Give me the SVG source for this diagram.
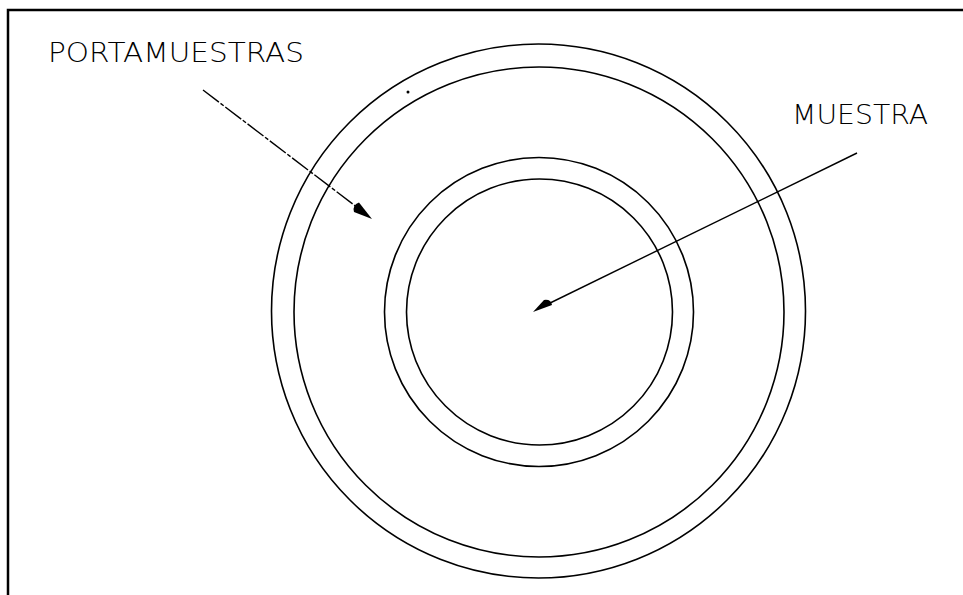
<svg xmlns="http://www.w3.org/2000/svg" width="963" height="595" viewBox="0 0 963 595">
<style>
.ring{fill:none;stroke:#000;stroke-width:1.6}
.lbl{font-family:"DejaVu Sans","Liberation Sans",Arial,sans-serif;font-size:26px;fill:#000;font-weight:200}
.lead{stroke:#000;stroke-width:1.4;fill:none}
.head{fill:#000}
</style>
<rect width="963" height="595" fill="#fff"/>
<path d="M8,600 V10 H963" fill="none" stroke="#000" stroke-width="2.5"/>
<g id="portamuestras">
<circle class="ring" cx="538.5" cy="311" r="267"/>
<circle class="ring" cx="539" cy="312" r="245"/>
<circle cx="408" cy="92" r="1.5" fill="#000"/>
</g>
<g id="muestra">
<circle class="ring" cx="539" cy="312" r="154.5"/>
<circle class="ring" cx="539.5" cy="312" r="133"/>
</g>
<g id="labels">
<text class="lbl" x="48" y="62" textLength="256" lengthAdjust="spacingAndGlyphs">PORTAMUESTRAS</text>
<text class="lbl" x="792" y="124" textLength="136" lengthAdjust="spacingAndGlyphs">MUESTRA</text>
</g>
<g id="connectors">
<line class="lead" x1="203" y1="90" x2="358" y2="208" stroke-dasharray="20 2 4 2"/>
<path class="head" d="M372,219 L354,212 Q352,205 359,202.5 Z"/>
<line class="lead" x1="857" y1="153" x2="546" y2="305"/>
<path class="head" d="M533,312 L544,300 Q551,299 552,305 Z"/>
</g>
</svg>
